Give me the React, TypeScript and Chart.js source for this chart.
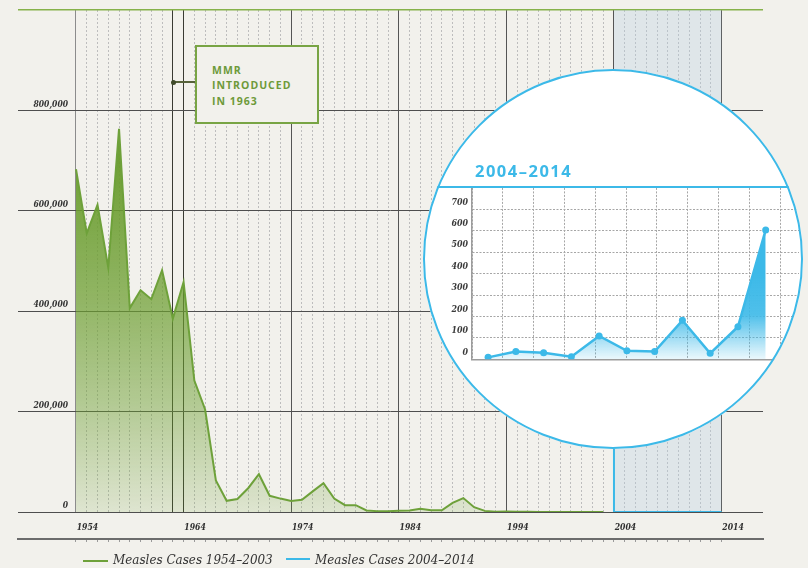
import React, { useEffect, useRef } from "react";
import { Chart, registerables } from "chart.js";

Chart.register(...registerables);

// ---------- data ----------
const years: number[] = [
  1954, 1955, 1956, 1957, 1958, 1959, 1960, 1961, 1962, 1963,
  1964, 1965, 1966, 1967, 1968, 1969, 1970, 1971, 1972, 1973,
  1974, 1975, 1976, 1977, 1978, 1979, 1980, 1981, 1982, 1983,
  1984, 1985, 1986, 1987, 1988, 1989, 1990, 1991, 1992, 1993,
  1994, 1995, 1996, 1997, 1998, 1999, 2000, 2001, 2002, 2003,
];
const cases: number[] = [
  682720, 555156, 611936, 486799, 763094, 406162, 441703, 423919, 481530, 385156,
  458083, 261904, 204136, 62705, 22231, 25826, 47351, 75290, 32275, 26690,
  22094, 24374, 41126, 57345, 26871, 13597, 13506, 3124, 1714, 1497,
  2587, 2822, 6282, 3655, 3396, 18193, 27786, 9643, 2237, 312,
  963, 309, 508, 138, 100, 100, 86, 116, 44, 56,
];
const insetYears: number[] = [2004, 2005, 2006, 2007, 2008, 2009, 2010, 2011, 2012, 2013, 2014];
const insetCases: number[] = [9, 36, 31, 12, 109, 40, 36, 182, 28, 152, 604];
const decadeLabels: number[] = [1954, 1964, 1974, 1984, 1994, 2004, 2014];
const mmrYear = 1963;
const rangeStart = 2004;
const rangeEnd = 2014;
const legendLabels: string[] = ["Measles Cases 1954\u20132003", "Measles Cases 2004\u20132014"];
const insetTitle = "2004\u20132014";

// ---------- styles ----------
const BG = "#f2f1ec";
const GREEN = "#6ea13a";
const GREEN_TOP = "#86b24a";
const GREEN_BOX = "#78a444";
const GREEN_TEXT = "#6e9a3a";
const BLUE = "#3cb9e8";
const SERIF = '"DejaVu Serif Condensed", "DejaVu Serif", serif';
const SANS = '"Open Sans", sans-serif';

const X_MIN = 1948.61;
const X_MAX = 2017.85;
const INSET_MIN = 2003.42;
const INSET_MAX = 2015.2;
const INSET_GRID_STEP = 1.1103;

function tickYears(): number[] {
  const out: number[] = [];
  for (let y = decadeLabels[0]; y <= decadeLabels[decadeLabels.length - 1]; y++) out.push(y);
  return out;
}

function greenFill(c: any) {
  const chart = c.chart;
  const a = chart.chartArea;
  if (!a) return "rgba(108,158,48,0.5)";
  const g = chart.ctx.createLinearGradient(0, a.top, 0, a.bottom);
  g.addColorStop(0, "rgba(106,156,46,1)");
  g.addColorStop(0.3, "rgba(106,156,46,0.97)");
  g.addColorStop(0.58, "rgba(108,158,48,0.72)");
  g.addColorStop(0.78, "rgba(108,158,48,0.48)");
  g.addColorStop(1, "rgba(108,158,48,0.15)");
  return g;
}

function blueFill(c: any) {
  const chart = c.chart;
  const a = chart.chartArea;
  if (!a) return "rgba(60,185,232,0.5)";
  const g = chart.ctx.createLinearGradient(0, a.top, 0, a.bottom);
  g.addColorStop(0, "rgba(60,185,232,1)");
  g.addColorStop(0.5, "rgba(60,185,232,1)");
  g.addColorStop(0.74, "rgba(60,185,232,0.9)");
  g.addColorStop(0.87, "rgba(60,185,232,0.5)");
  g.addColorStop(0.96, "rgba(60,185,232,0.22)");
  g.addColorStop(1, "rgba(60,185,232,0.1)");
  return g;
}

const tv = (c: any) => (c && c.tick ? c.tick.value : undefined);

function xGridColor(c: any) {
  const v = tv(c);
  if (v === undefined) return "transparent";
  if (v === decadeLabels[0]) return "#8c8c8c";
  if (v === mmrYear || v === 1964) return "#3a3b33";
  if ((v - 1954) % 10 === 0) return "#555555";
  return "#bdbdbd";
}
function xGridDash(c: any) {
  const v = tv(c);
  if (v === undefined) return [];
  if (v === mmrYear || (v - 1954) % 10 === 0) return [];
  return [2, 2];
}

function mainConfig(): any {
  return {
    type: "line",
    data: {
      datasets: [
        {
          label: legendLabels[0],
          data: years.map((y, i) => ({ x: y, y: cases[i] })),
          borderColor: GREEN,
          borderWidth: 2,
          pointRadius: 0,
          fill: "origin",
          backgroundColor: greenFill,
          tension: 0,
          order: 1,
        },
        {
          label: legendLabels[1],
          data: [
            { x: rangeStart, y: 128000 },
            { x: rangeStart, y: 0 },
            { x: rangeEnd, y: 0 },
          ],
          borderColor: BLUE,
          borderWidth: 2,
          pointRadius: 0,
          fill: false,
          order: 0,
        },
        {
          label: "range",
          data: [
            { x: rangeStart, y: 1000000 },
            { x: rangeEnd, y: 1000000 },
          ],
          borderWidth: 0,
          borderColor: "transparent",
          backgroundColor: "rgba(185,208,227,0.32)",
          pointRadius: 0,
          fill: "origin",
          order: 3,
        },
      ],
    },
    options: {
      animation: false,
      responsive: false,
      maintainAspectRatio: false,
      events: [],
      layout: { padding: { left: 18, right: 45, top: 10, bottom: 26 } },
      plugins: { legend: { display: false }, tooltip: { enabled: false } },
      scales: {
        x: {
          type: "linear",
          min: X_MIN,
          max: X_MAX,
          position: "bottom",
          weight: 0,
          afterBuildTicks: (s: any) => {
            s.ticks = tickYears().map((v) => ({ value: v }));
          },
          afterFit: (s: any) => {
            s.height = 27;
          },
          ticks: {
            autoSkip: false,
            maxRotation: 0,
            minRotation: 0,
            padding: 11,
            labelOffset: 11.5,
            color: "#2f2f2f",
            font: { family: SERIF, size: 8.6, style: "italic", weight: "bold" },
            callback: (v: any) => (decadeLabels.includes(Number(v)) ? String(v) : ""),
          },
          grid: { drawTicks: false, color: xGridColor, lineWidth: 1 },
          border: { display: false, dash: xGridDash },
        },
        x2: {
          type: "linear",
          min: X_MIN,
          max: X_MAX,
          position: "bottom",
          weight: 1,
          afterBuildTicks: (s: any) => {
            s.ticks = tickYears().map((v) => ({ value: v }));
          },
          afterFit: (s: any) => {
            s.height = 3;
          },
          ticks: { display: false, autoSkip: false },
          grid: {
            drawOnChartArea: false,
            drawTicks: true,
            tickLength: 3,
            tickColor: "#9a9a9a",
            color: "#9a9a9a",
          },
          border: { display: true, color: "#6c6c6c", width: 2 },
        },
        y: {
          type: "linear",
          min: 0,
          max: 1000000,
          position: { x: 1953.26 },
          ticks: {
            stepSize: 200000,
            labelOffset: -6,
            padding: 0,
            color: "#333",
            font: { family: SERIF, size: 8.5, style: "italic", weight: "bold" },
            callback: (v: any) => (Number(v) >= 1000000 ? "" : Number(v).toLocaleString("en-US")),
          },
          grid: {
            drawTicks: false,
            color: (c: any) => (tv(c) === 1000000 ? GREEN_TOP : "#4e4e4e"),
            lineWidth: (c: any) => (tv(c) === 1000000 ? 1.5 : 1),
          },
          border: { display: false },
        },
      },
    },
  };
}

function insetConfig(): any {
  return {
    type: "line",
    data: {
      datasets: [
        {
          label: legendLabels[1],
          data: insetYears.map((y, i) => ({ x: y, y: insetCases[i] })),
          borderColor: BLUE,
          borderWidth: 2.5,
          pointRadius: 3.5,
          pointBackgroundColor: BLUE,
          pointBorderColor: BLUE,
          pointBorderWidth: 0,
          fill: "origin",
          backgroundColor: blueFill,
          tension: 0,
        },
      ],
    },
    options: {
      animation: false,
      responsive: false,
      maintainAspectRatio: false,
      events: [],
      layout: { padding: { left: 9, right: 0, top: 118.9, bottom: 89.7 } },
      plugins: { legend: { display: false }, tooltip: { enabled: false } },
      scales: {
        x: {
          type: "linear",
          min: INSET_MIN,
          max: INSET_MAX,
          afterBuildTicks: (s: any) => {
            const t: any[] = [];
            for (let k = 0; k <= 10; k++) t.push({ value: INSET_MIN + k * INSET_GRID_STEP });
            s.ticks = t;
          },
          afterFit: (s: any) => {
            s.height = 0;
          },
          ticks: { display: false, autoSkip: false },
          grid: { drawTicks: false, color: "#a6a6a6", lineWidth: 1 },
          border: {
            display: true,
            color: "#9c9c9c",
            width: 1.5,
            dash: (c: any) => (c && c.tick ? [2, 1.5] : []),
          },
        },
        y: {
          type: "linear",
          min: 0,
          max: 800,
          afterFit: (s: any) => {
            s.width = 40;
          },
          ticks: {
            stepSize: 100,
            padding: 4,
            labelOffset: -7,
            color: "#3a3a3a",
            font: { family: SERIF, size: 8.8, style: "italic", weight: "bold" },
            callback: (v: any) => (Number(v) >= 800 ? "" : String(v)),
          },
          grid: {
            drawTicks: false,
            color: (c: any) => (tv(c) === 800 ? "transparent" : "#a6a6a6"),
            lineWidth: 1,
          },
          border: {
            display: true,
            color: "#9c9c9c",
            width: 1.5,
            dash: (c: any) => (c && c.tick ? [2, 1.5] : []),
          },
        },
      },
    },
  };
}

export default function App() {
  const mainRef = useRef<HTMLCanvasElement>(null);
  const insetRef = useRef<HTMLCanvasElement>(null);

  useEffect(() => {
    document.body.style.margin = "0";
    const c1 = new Chart(mainRef.current as HTMLCanvasElement, mainConfig());
    const c2 = new Chart(insetRef.current as HTMLCanvasElement, insetConfig());
    return () => {
      c1.destroy();
      c2.destroy();
    };
  }, []);

  const legendText: React.CSSProperties = {
    position: "absolute",
    top: 551,
    font: `italic 13.3px ${SERIF}`,
    lineHeight: "18px",
    color: "#333",
    whiteSpace: "nowrap",
  };

  return (
    <div
      style={{
        position: "absolute",
        left: 0,
        top: 0,
        width: 808,
        height: 568,
        background: BG,
        overflow: "hidden",
      }}
    >
      <canvas
        ref={mainRef}
        width={808}
        height={568}
        style={{ position: "absolute", left: 0, top: 0, width: 808, height: 568 }}
      />

      {/* MMR annotation */}
      <div
        style={{
          position: "absolute",
          left: 173,
          top: 81,
          width: 22,
          height: 1.5,
          background: "#56623a",
        }}
      />
      <div
        style={{
          position: "absolute",
          left: 170.5,
          top: 79.5,
          width: 5,
          height: 5,
          borderRadius: "50%",
          background: "#3f4a2a",
        }}
      />
      <div
        style={{
          position: "absolute",
          left: 195,
          top: 45,
          width: 124,
          height: 79,
          boxSizing: "border-box",
          border: `2px solid ${GREEN_BOX}`,
          background: BG,
        }}
      >
        <div
          style={{
            position: "absolute",
            left: 15,
            top: 16,
            font: `700 10.5px ${SANS}`,
            letterSpacing: "1px",
            lineHeight: "15.3px",
            color: GREEN_TEXT,
            whiteSpace: "nowrap",
          }}
        >
          MMR
          <br />
          INTRODUCED
          <br />
          IN 1963
        </div>
      </div>

      {/* inset circle */}
      <div
        style={{
          position: "absolute",
          left: 423,
          top: 69,
          width: 380,
          height: 380,
          borderRadius: "50%",
          overflow: "hidden",
          background: "#ffffff",
        }}
      >
        <canvas
          ref={insetRef}
          width={380}
          height={380}
          style={{ position: "absolute", left: 0, top: 0, width: 380, height: 380 }}
        />
        <div
          style={{
            position: "absolute",
            left: 0,
            top: 117,
            width: 380,
            height: 2,
            background: BLUE,
          }}
        />
      </div>
      <div
        style={{
          position: "absolute",
          left: 423,
          top: 69,
          width: 380,
          height: 380,
          borderRadius: "50%",
          boxSizing: "border-box",
          border: `2.5px solid ${BLUE}`,
        }}
      />
      <div
        style={{
          position: "absolute",
          left: 475,
          top: 161,
          font: `700 16.5px ${SANS}`,
          letterSpacing: "1.5px",
          lineHeight: "20px",
          color: BLUE,
          whiteSpace: "nowrap",
        }}
      >
        {insetTitle}
      </div>

      {/* legend */}
      <div style={{ position: "absolute", left: 83, top: 560, width: 25, height: 2, background: GREEN }} />
      <div style={{ ...legendText, left: 113 }}>{legendLabels[0]}</div>
      <div style={{ position: "absolute", left: 286, top: 558, width: 24, height: 2, background: BLUE }} />
      <div style={{ ...legendText, left: 315 }}>{legendLabels[1]}</div>
    </div>
  );
}
